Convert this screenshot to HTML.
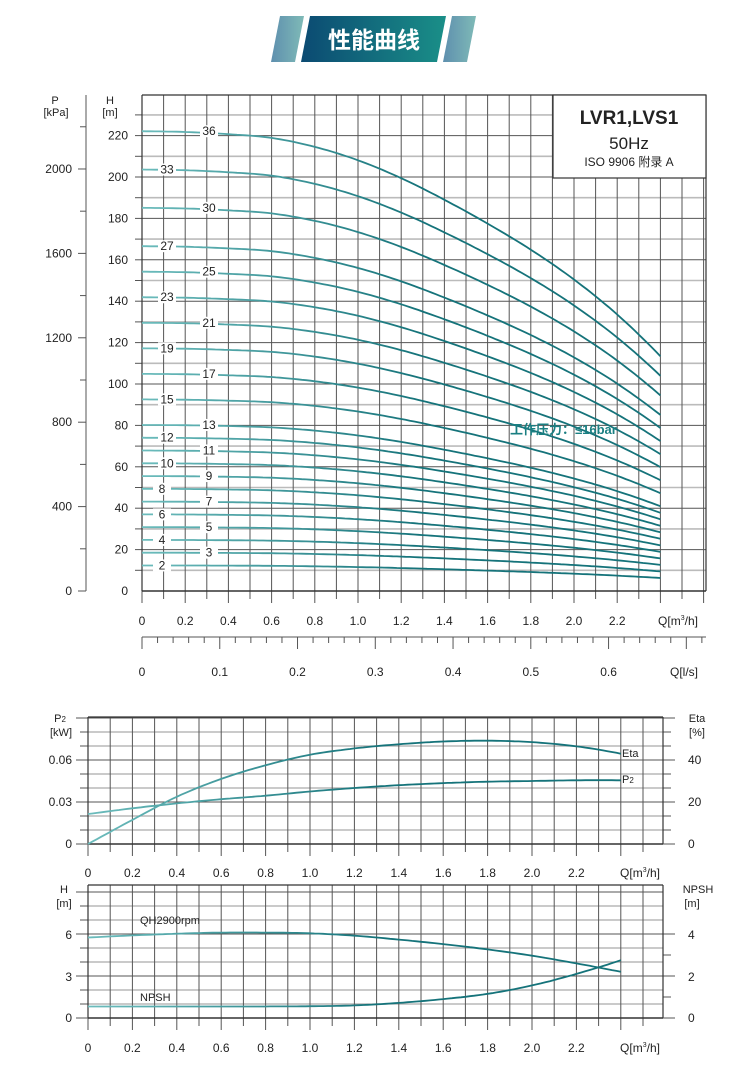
<!DOCTYPE html>
<html><head><meta charset="utf-8"><style>
body{margin:0;background:#fff;width:750px;height:1082px;overflow:hidden;font-family:"Liberation Sans","Noto Sans CJK SC",sans-serif}
svg{display:block}
text{font-family:"Liberation Sans","Noto Sans CJK SC",sans-serif;fill:#222}
</style></head><body>
<svg id="s" width="750" height="1082" viewBox="0 0 750 1082" xmlns="http://www.w3.org/2000/svg">
<defs>
<linearGradient id="bn" x1="0" x2="1"><stop offset="0" stop-color="#0b4a72"/><stop offset="1" stop-color="#1a8f88"/></linearGradient>
<linearGradient id="sl" x1="0" x2="1"><stop offset="0" stop-color="#5e8fae"/><stop offset="1" stop-color="#7fbab7"/></linearGradient>
<linearGradient id="cv" gradientUnits="userSpaceOnUse" x1="142" x2="420" y1="0" y2="0"><stop offset="0" stop-color="#6cbcbc"/><stop offset="1" stop-color="#15737a"/></linearGradient>
<linearGradient id="cv2" gradientUnits="userSpaceOnUse" x1="88" x2="380" y1="0" y2="0"><stop offset="0" stop-color="#6cbcbc"/><stop offset="1" stop-color="#15737a"/></linearGradient>
</defs>
<polygon points="280,16 304,16 295,62 271,62" fill="url(#sl)"/>
<polygon points="310,16 446,16 437,62 301,62" fill="url(#bn)"/>
<polygon points="452,16 476,16 467,62 443,62" fill="url(#sl)"/>
<text x="374" y="48" text-anchor="middle" style="fill:#fff;font-size:23px;font-weight:bold">性能曲线</text>
<g id="g"></g>
</svg>
<script>
var g=document.getElementById('g'),o='';
function L(x1,y1,x2,y2,c,w){o+='<line x1="'+x1+'" y1="'+y1+'" x2="'+x2+'" y2="'+y2+'" stroke="'+c+'" stroke-width="'+w+'"/>';}
function T(x,y,t,a,s,ex){o+='<text x="'+x+'" y="'+y+'" text-anchor="'+(a||'start')+'" font-size="'+(s||12)+'" '+(ex||'')+'>'+t+'</text>';}
function interp(v,q){var n=v.length;var f=q/0.2;var i=Math.min(Math.floor(f),n-2);var t=f-i;
var p1=v[i],p2=v[i+1];var p0=i>0?v[i-1]:2*p1-p2;var p3=i+2<n?v[i+2]:2*p2-p1+(p2-p1-(p1-p0));var t2=t*t,t3=t2*t;
return 0.5*((2*p1)+(-p0+p2)*t+(2*p0-5*p1+4*p2-p3)*t2+(-p0+3*p1-3*p2+p3)*t3);}
function path(v,fx,fy,qmax,col,w){var d='';for(var q=0;q<=qmax+1e-9;q+=0.02){d+=(d?'L':'M')+fx(q).toFixed(1)+','+fy(interp(v,q)).toFixed(1);}o+='<path d="'+d+'" fill="none" stroke="'+col+'" stroke-width="'+w+'"/>';}
var X0=142,XS=216,Y0=591,YS=2.07,TOP=95,R=706;
var fx=function(q){return X0+q*XS},fy=function(h){return Y0-h*YS};
for(var h=10;h<=230;h+=10){var yy=fy(h);L(X0,yy,R,yy,h%20==0?'#555':'#bbb',h%20==0?1:1.6);L(135,yy,X0,yy,'#555',1);}
for(var i=0;i<=26;i++){var xx=X0+i*21.6;if(xx>R)break;L(xx,TOP,xx,Y0+(i%2==0?12:8),'#555',1);}
L(X0,TOP,R,TOP,'#333',1.2);L(R,TOP,R,Y0,'#333',1.2);L(X0,TOP,X0,Y0,'#333',1.2);L(X0,Y0,R,Y0,'#333',1.4);
o+='<rect x="553" y="95" width="153" height="83" fill="#fff" stroke="#333" stroke-width="1.2"/>';
T(629,124,'LVR1,LVS1','middle',19,'font-weight="bold"');T(629,149,'50Hz','middle',17);T(629,166,'ISO 9906  附录 A','middle',12);
for(var h=0;h<=220;h+=20)T(128,fy(h)+4,h,'end',12);
T(110,104,'H','middle',11);T(110,116,'[m]','middle',11);
T(55,104,'P','middle',11);T(56,116,'[kPa]','middle',11);
L(86,TOP,86,Y0,'#555',1);
for(var p=0;p<=2200;p+=200){var yy=Y0-p/9.81*YS;if(yy<TOP)break;L(p%400==0?78:80,yy,86,yy,'#555',1);if(p%400==0)T(72,yy+4,p,'end',12);}
var qs=[0,0.2,0.4,0.6,0.8,1.0,1.2,1.4,1.6,1.8,2.0,2.2];
qs.forEach(function(q){T(fx(q),625,q==0?'0':q.toFixed(1),'middle',12);});
T(678,625,'Q[m<tspan font-size="7" dy="-5">3</tspan><tspan dy="5">/h]</tspan>','middle',12);
L(X0,637,R,637,'#555',1);
for(var i=0;i<=40;i++){var xx=X0+i*0.072*XS;if(xx>R+1)break;L(xx,637,xx,637+(i%5==0?12:6),'#555',1);}
for(var i=0;i<=6;i++)T(X0+i*0.36*XS,676,i==0?'0':'0.'+i,'middle',12);
T(684,676,'Q[l/s]','middle',12);
var base=[6.17,6.16,6.13,6.08,5.96,5.78,5.54,5.25,4.93,4.58,4.18,3.71,3.15];
var st=[2,3,4,5,6,7,8,9,10,11,12,13,15,17,19,21,23,25,27,30,33,36];
st.forEach(function(n){var v=base.map(function(p){return p*n});path(v,fx,fy,2.4,'url(#cv)',1.8);});
var right={36:1,30:1,25:1,21:1,17:1,13:1,11:1,9:1,7:1,5:1,3:1};
st.forEach(function(n){var lx=right[n]?209:(n<=8?162:167);var yy=fy(6.17*n);o+='<rect x="'+(lx-9)+'" y="'+(yy-6)+'" width="18" height="12" fill="#fff"/>';T(lx,yy+4,n,'middle',12);});
T(510,434,'工作压力：≤16bar','start',13,'style="fill:#1a7f82;font-weight:bold"');
var A0=88,AS=222,B0=844,BT=717,BR=663;
var gx=function(q){return A0+q*AS};
for(var i=1;i<=9;i++){var yy=B0-i*14;L(A0,yy,BR,yy,i%3==0?'#555':'#aaa',i%3==0?1:1.3);L(i%3==0?76:80,yy,A0,yy,'#555',1);L(BR,yy,i%3==0?675:671,yy,'#555',1);}
for(var i=0;i<=26;i++){var xx=A0+i*22.2;if(xx>BR+1)break;L(xx,BT,xx,B0+(i%2==0?12:8),'#555',1);}
L(A0,BT,BR,BT,'#333',1.2);L(A0,B0,BR,B0,'#333',1.4);L(A0,BT,A0,B0,'#333',1.2);L(BR,BT,BR,B0,'#333',1.2);
L(76,B0,A0,B0,'#555',1);L(BR,B0,675,B0,'#555',1);
T(72,848,'0','end',12);T(72,806,'0.03','end',12);T(72,764,'0.06','end',12);
T(688,848,'0','start',12);T(688,806,'20','start',12);T(688,764,'40','start',12);
T(60,722,'P<tspan font-size="8">2</tspan>','middle',11);T(61,736,'[kW]','middle',11);
T(697,722,'Eta','middle',11);T(697,736,'[%]','middle',11);
qs.forEach(function(q){T(gx(q),877,q==0?'0':q.toFixed(1),'middle',12);});
T(640,877,'Q[m<tspan font-size="7" dy="-5">3</tspan><tspan dy="5">/h]</tspan>','middle',12);
var eta=[0,11.5,22.5,31,37.5,42.5,45.5,47.5,48.8,49.2,48.5,46.5,43];
path(eta,gx,function(v){return B0-v*2.1},2.4,'url(#cv2)',1.8);
var p2=[.0214,.0255,.029,.032,.0345,.0375,.040,.042,.0435,.0445,.045,.0455,.0455];
path(p2,gx,function(v){return B0-v*1400},2.4,'url(#cv2)',1.8);
T(622,757,'Eta','start',11);T(622,783,'P<tspan font-size="8">2</tspan>','start',11);
var C0=1018,CT=885;
for(var i=1;i<=9;i++){var yy=C0-i*14;if(yy<CT)break;L(A0,yy,BR,yy,i%3==0?'#555':'#aaa',i%3==0?1:1.3);L(i%3==0?76:80,yy,A0,yy,'#555',1);}
for(var i=1;i<=4;i++){var yy=C0-i*21;L(BR,yy,i%2==0?675:671,yy,'#555',1);}
for(var i=0;i<=26;i++){var xx=A0+i*22.2;if(xx>BR+1)break;L(xx,CT,xx,C0+(i%2==0?12:8),'#555',1);}
L(A0,CT,BR,CT,'#333',1.2);L(A0,C0,BR,C0,'#333',1.4);L(A0,CT,A0,C0,'#333',1.2);L(BR,CT,BR,C0,'#333',1.2);
L(76,C0,A0,C0,'#555',1);L(BR,C0,675,C0,'#555',1);
T(72,1022,'0','end',12);T(72,981,'3','end',12);T(72,939,'6','end',12);
T(688,1022,'0','start',12);T(688,981,'2','start',12);T(688,939,'4','start',12);
T(64,893,'H','middle',11);T(64,907,'[m]','middle',11);
T(698,893,'NPSH','middle',11);T(692,907,'[m]','middle',11);
qs.forEach(function(q){T(gx(q),1052,q==0?'0':q.toFixed(1),'middle',12);});
T(640,1052,'Q[m<tspan font-size="7" dy="-5">3</tspan><tspan dy="5">/h]</tspan>','middle',12);
var qh=[5.75,5.9,6.02,6.1,6.1,6.05,5.88,5.6,5.28,4.9,4.45,3.9,3.3];
path(qh,gx,function(v){return C0-v*14},2.4,'url(#cv2)',1.8);
var np=[.55,.55,.55,.55,.55,.56,.6,.72,.9,1.15,1.55,2.1,2.75];
path(np,gx,function(v){return C0-v*21},2.4,'url(#cv2)',1.8);
T(140,924,'QH2900rpm','start',11);T(140,1001,'NPSH','start',11);
g.innerHTML=o;
</script>
</body></html>
